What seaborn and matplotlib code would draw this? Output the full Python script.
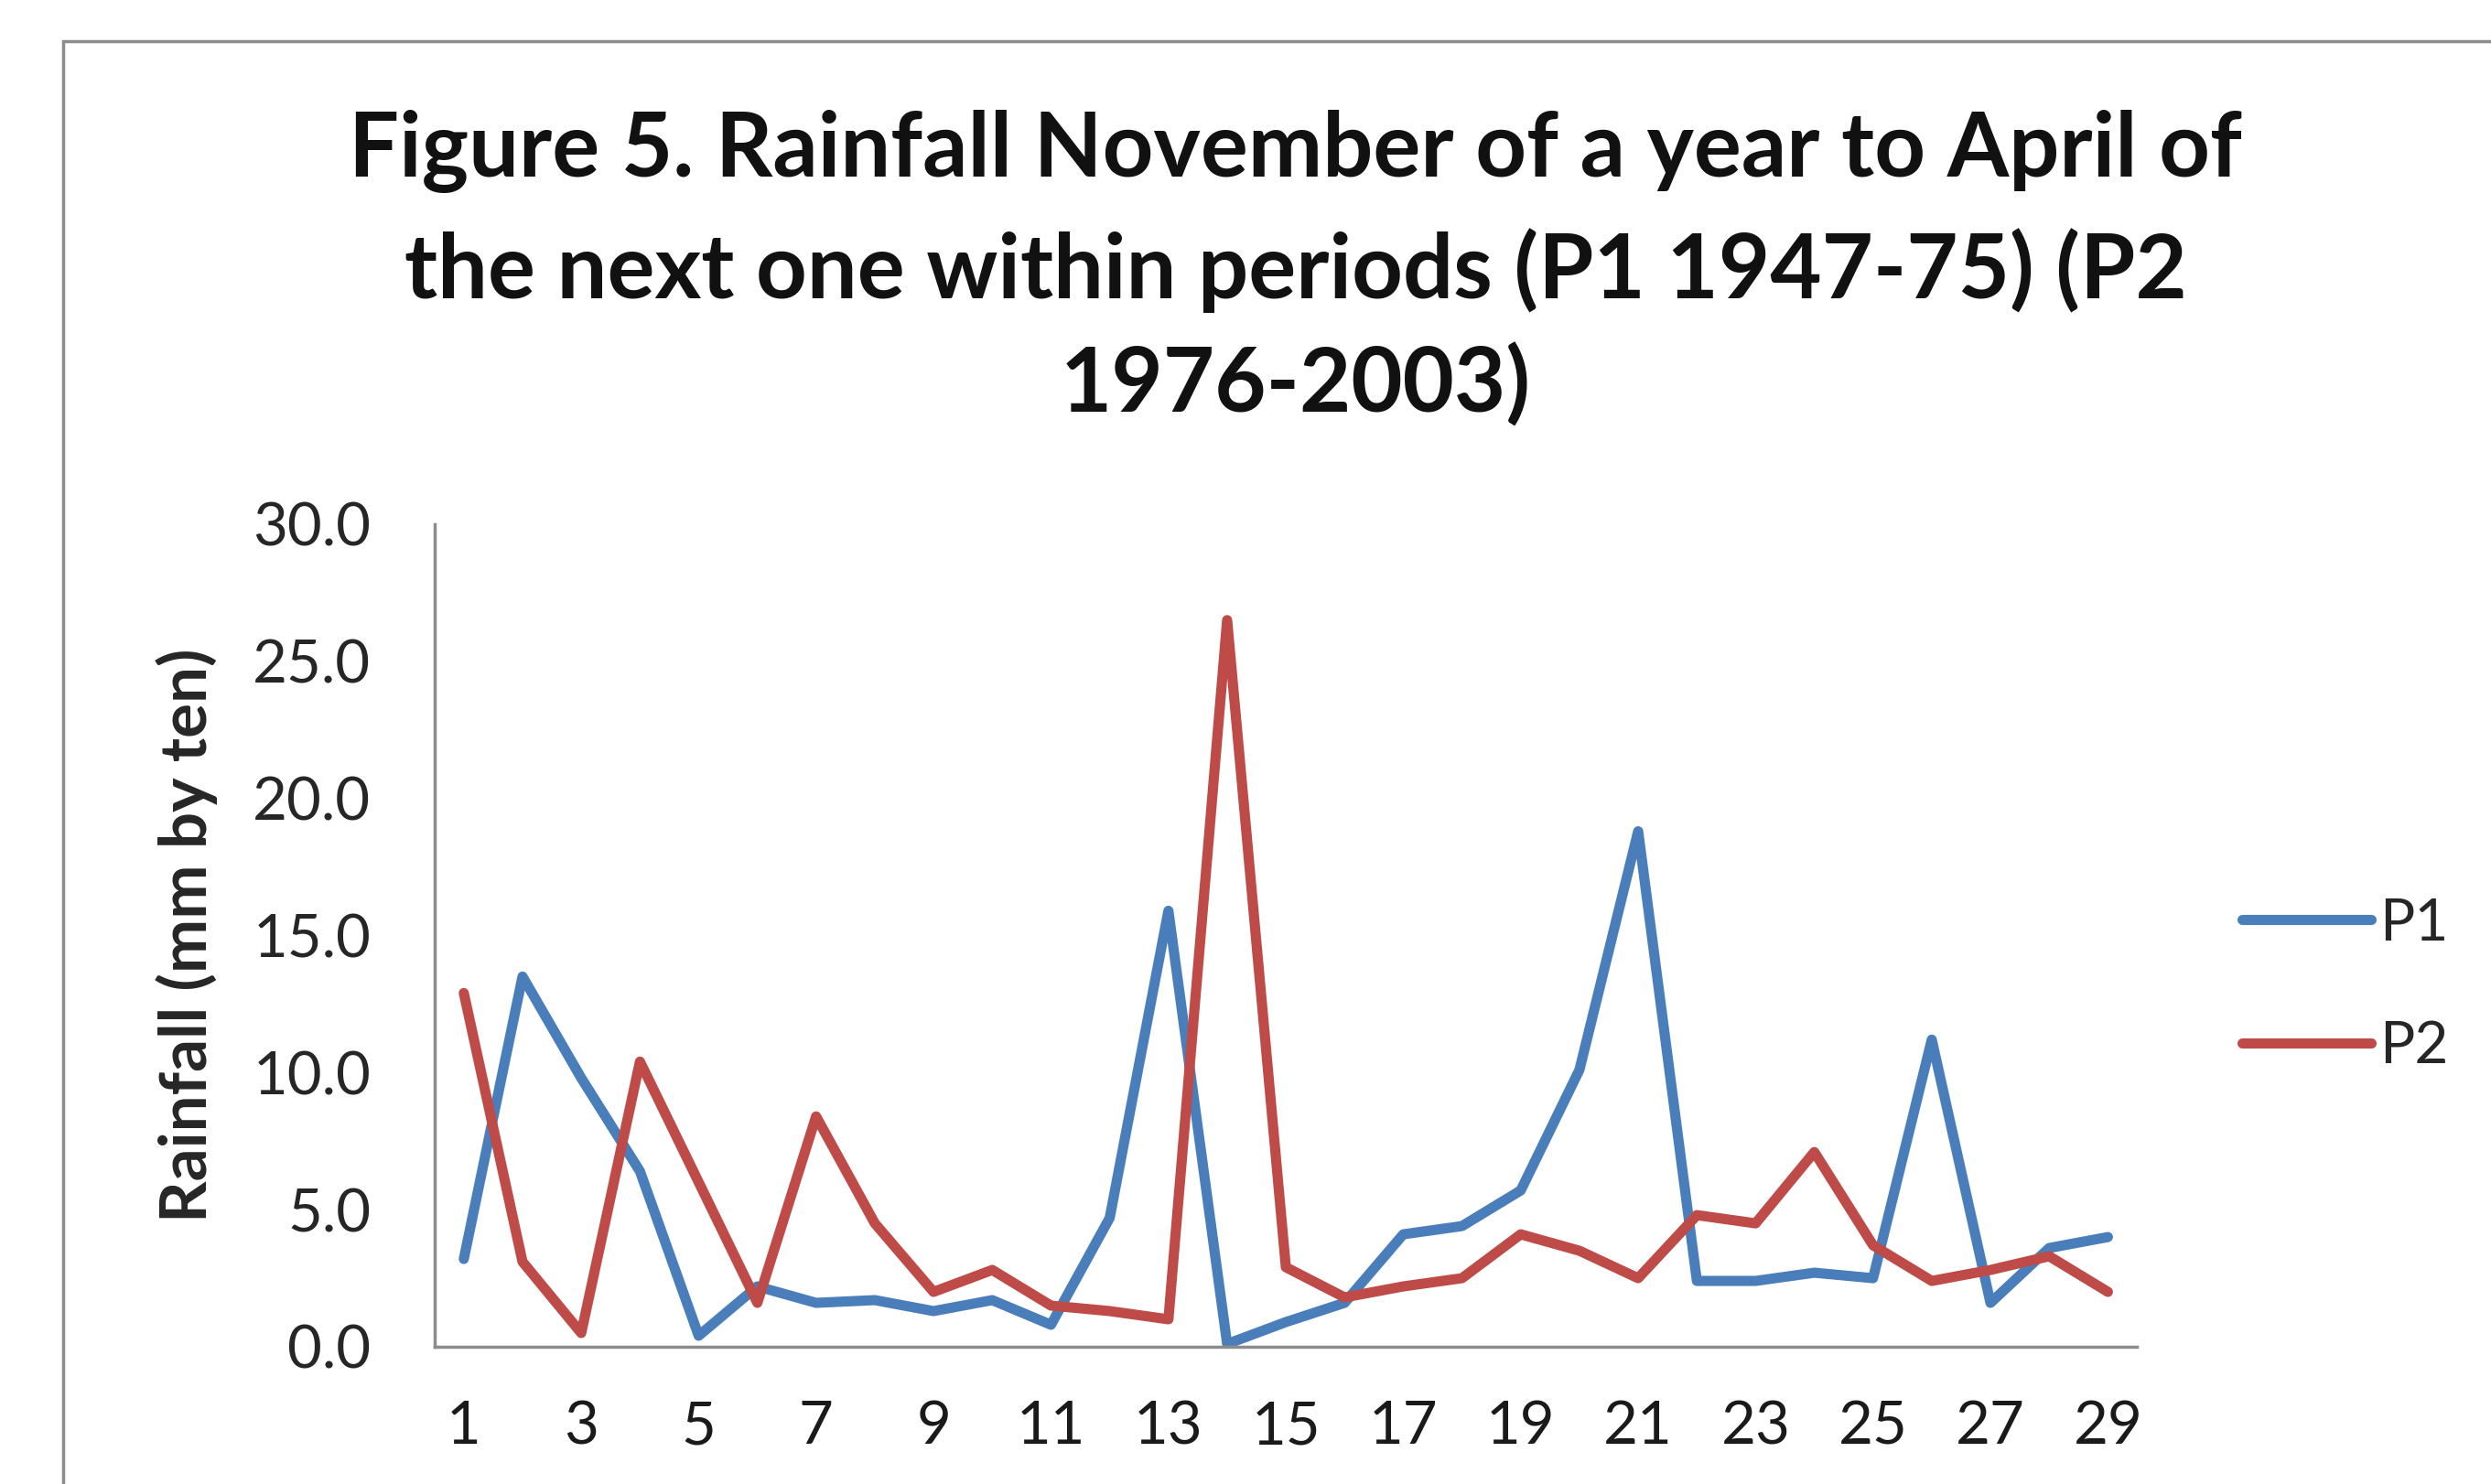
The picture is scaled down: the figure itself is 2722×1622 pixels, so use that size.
import matplotlib
matplotlib.use("Agg")
import matplotlib.pyplot as plt
import seaborn as sns
import pandas as pd
from matplotlib.patches import Rectangle
from matplotlib.lines import Line2D

# ---- data ----
periods = list(range(1, 30))
p1 = [3.2, 13.5, 9.8, 6.4, 0.4, 2.2, 1.6, 1.7, 1.3, 1.7, 0.8, 4.7, 15.9, 0.1,
      0.9, 1.6, 4.1, 4.4, 5.7, 10.1, 18.8, 2.4, 2.4, 2.7, 2.5, 11.2, 1.6, 3.6, 4.0]
p2 = [12.9, 3.1, 0.5, 10.4, 6.0, 1.6, 8.4, 4.5, 2.0, 2.8, 1.5, 1.3, 1.0, 26.5,
      2.9, 1.8, 2.2, 2.5, 4.1, 3.5, 2.5, 4.8, 4.5, 7.1, 3.7, 2.4, 2.8, 3.3, 2.0]
series_names = ["P1", "P2"]
yticks = [0, 5, 10, 15, 20, 25, 30]
xticks = list(range(1, 30, 2))
title_lines = ["Figure 5. Rainfall November of a year to April of",
               "the next one within periods (P1 1947-75) (P2",
               "1976-2003)"]
ylabel = "Rainfall (mm by ten)"

df = pd.DataFrame({"period": periods * 2,
                   "value": p1 + p2,
                   "series": [series_names[0]] * len(p1) + [series_names[1]] * len(p2)})

sns.set_style("white")
plt.rcParams["font.family"] = ["Lato", "DejaVu Sans"]

fig = plt.figure(figsize=(27.22, 16.22), dpi=100)
ax = fig.add_axes([0.1744, 0.0925, 0.6836, 0.5543])

# chart border (Excel chart area)
fig.patches.append(Rectangle((69 / 2722, -0.1), 1.2, 1 - 45 / 1622 + 0.1,
                             transform=fig.transFigure, fill=False,
                             edgecolor="#8c8c8c", linewidth=2.5, zorder=0))

palette = {"P1": "#4a7ebb", "P2": "#be4b48"}
sns.lineplot(data=df, x="period", y="value", hue="series", palette=palette,
             linewidth=8, ax=ax, legend=False)

ax.set_xlim(0.5, 29.5)
ax.set_ylim(0, 30)
ax.set_yticks(yticks)
ax.set_yticklabels([f"{v:.1f}" for v in yticks], fontsize=47, color="#262626")
ax.set_xticks(xticks)
ax.set_xticklabels([str(v) for v in xticks], fontsize=47, color="#1a1a1a")
ax.tick_params(axis="x", length=0, pad=42)
ax.tick_params(axis="y", length=0, pad=50)
ax.set_xlabel("")
ax.set_ylabel(ylabel, fontsize=51, fontweight="bold")
ax.yaxis.set_label_coords(-0.127, 0.5)
for s in ["top", "right"]:
    ax.spines[s].set_visible(False)
for s in ["left", "bottom"]:
    ax.spines[s].set_color("#8c8c8c")
    ax.spines[s].set_linewidth(2.5)
ax.grid(False)

for line, yc in zip(title_lines, [0.898, 0.818, 0.741]):
    fig.text(0.52, yc, line, ha="center", va="center", fontsize=70,
             fontweight="bold", color="#111111")

# legend
handles = [Line2D([0], [0], color=palette[n], linewidth=8) for n in series_names]
fig.legend(handles, series_names, loc="center left",
           bbox_to_anchor=(0.879, 0.336), frameon=False, fontsize=46,
           handlelength=2.2, handletextpad=0.15, labelspacing=1.2)

fig.savefig("out.png", dpi=100)
